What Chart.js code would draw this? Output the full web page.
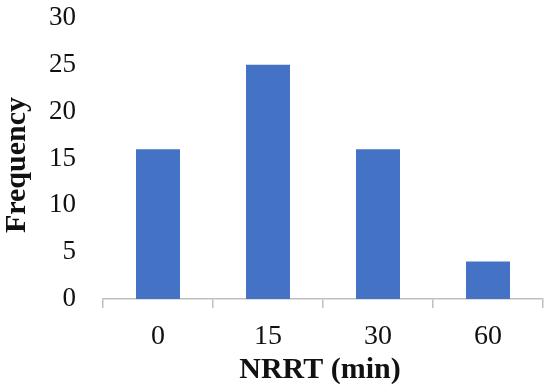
<!DOCTYPE html>
<html>
<head>
<meta charset="utf-8">
<script src="https://cdn.jsdelivr.net/npm/chart.js@4"></script>
<style>
  html, body { margin: 0; padding: 0; background: #fff; }
  #wrap { width: 550px; height: 392px; }
</style>
</head>
<body>
<div id="wrap"><canvas id="chart" width="550" height="392"></canvas></div>
<script>
const categories = ['0', '15', '30', '60']
const frequency = [16, 25, 16, 4]
const yTicks = [0, 5, 10, 15, 20, 25, 30]
const xTitle = 'NRRT (min)'
const yTitle = 'Frequency'

const serif = '"Liberation Serif", "Times New Roman", serif'

// axis titles drawn by hand so they sit where the original has them
const axisTitles = {
  id: 'axisTitles',
  afterDraw: function (chart) {
    const ctx = chart.ctx
    ctx.save()
    ctx.fillStyle = '#111'
    ctx.font = 'bold 30px ' + serif
    ctx.textAlign = 'center'
    ctx.textBaseline = 'middle'
    ctx.fillText(xTitle, 320, 370)
    ctx.translate(17, 165)
    ctx.rotate(-Math.PI / 2)
    ctx.fillText(yTitle, 0, 0)
    ctx.restore()
  },
}

new Chart(document.getElementById('chart').getContext('2d'), {
  type: 'bar',
  data: {
    labels: categories,
    datasets: [
      {
        data: frequency,
        backgroundColor: '#4472C4',
        barPercentage: 0.4,
        categoryPercentage: 1,
      },
    ],
  },
  options: {
    responsive: false,
    animation: false,
    layout: { padding: { top: 18, right: 7, bottom: 4, left: 4 } },
    plugins: { legend: { display: false }, tooltip: { enabled: false } },
    scales: {
      x: {
        grid: {
          drawOnChartArea: false,
          drawTicks: true,
          tickLength: 9,
          color: '#bfbfbf',
          lineWidth: 1.5,
        },
        border: { display: true, color: '#bfbfbf', width: 1.5 },
        ticks: {
          color: '#111',
          padding: 12,
          font: { family: serif, size: 28 },
        },
        afterFit: function (scale) {
          scale.height = 89
        },
      },
      y: {
        min: 0,
        max: 30,
        afterBuildTicks: function (scale) {
          scale.ticks = yTicks.map(function (v) { return { value: v } })
        },
        grid: { display: false, drawTicks: false },
        border: { display: false },
        ticks: {
          color: '#111',
          padding: 27,
          font: { family: serif, size: 27 },
        },
        afterFit: function (scale) {
          scale.width = 99
          scale.paddingTop = 0
          scale.paddingBottom = 0
        },
      },
    },
  },
  plugins: [axisTitles],
})
</script>
</body>
</html>
